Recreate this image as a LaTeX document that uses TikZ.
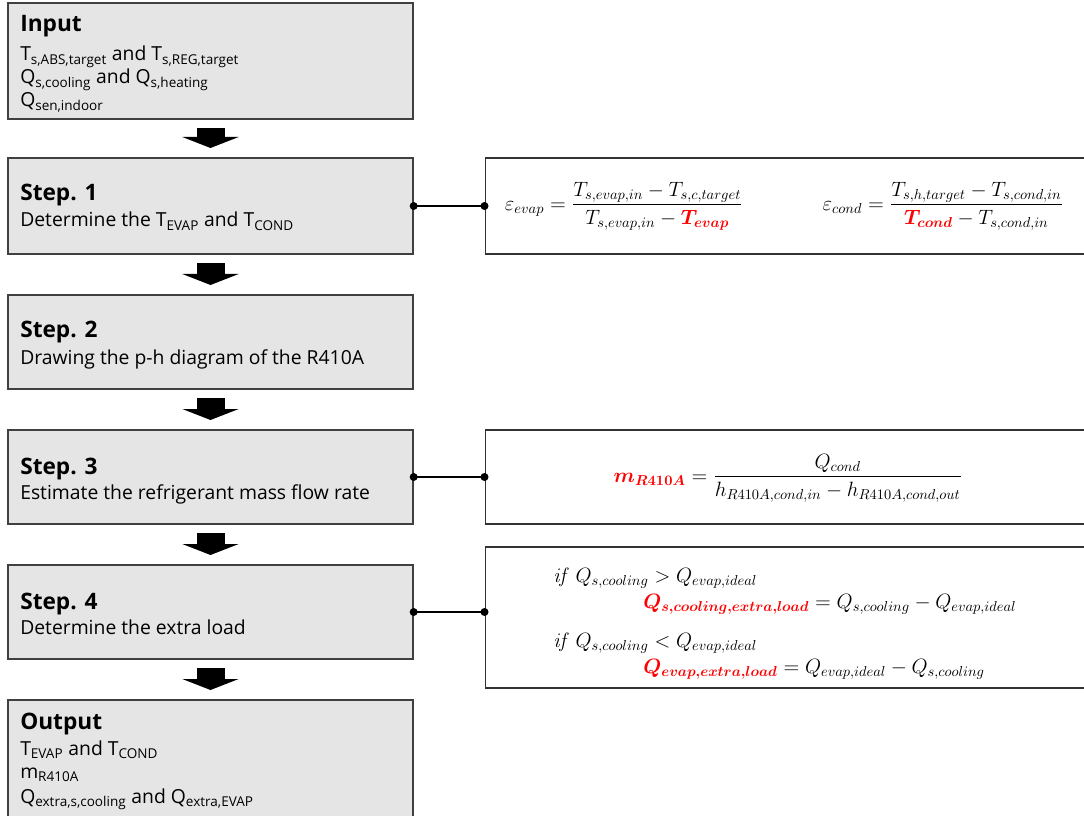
\documentclass[tikz,border=0pt]{standalone}
\usepackage[no-math]{fontspec}
\setmainfont{Open Sans}
\usepackage{amsmath}
\usepackage{bm}
\usetikzlibrary{arrows.meta}
\newcommand{\sbs}[1]{\textsubscript{#1}}
\begin{document}
\begin{tikzpicture}[x=0.75pt,y=-0.75pt,
  stepbox/.style={draw=black!75,line width=1pt,fill=black!10,minimum width=303.75pt,inner sep=0pt},
  eqbox/.style={draw=black!80,line width=1pt,fill=white,minimum width=455pt,inner sep=0pt},
  ttl/.style={anchor=base west,inner sep=0pt,font=\fontsize{17}{19}\selectfont\bfseries},
  txt/.style={anchor=base west,inner sep=0pt,font=\fontsize{14.5}{17}\selectfont},
  eq/.style={inner sep=0pt,font=\fontsize{14.4}{18}\selectfont,scale=1.08,transform shape},
  flow/.style={line width=21pt,-{Triangle[length=8.25pt,width=42pt]},shorten <=6.5pt,shorten >=7pt},
  link/.style={line width=1.5pt},
  dot/.style={fill=black}]
\useasboundingbox (0,0) rectangle (1084,816);
\clip (0,0) rectangle (1084,816);
% left boxes
\node[stepbox,minimum height=87pt] (in) at (210.5,61) {};
\node[stepbox,minimum height=72pt] (s1) at (210.5,206) {};
\node[stepbox,minimum height=70.5pt] (s2) at (210.5,342) {};
\node[stepbox,minimum height=70.5pt] (s3) at (210.5,477) {};
\node[stepbox,minimum height=70.5pt] (s4) at (210.5,612) {};
\node[stepbox,minimum height=90pt] (out) at (210.5,760) {};
% texts
\node[ttl] (in-t) at (20,32) {Input};
\node[txt] (in-a) at (20,61) {T\sbs{s,ABS,target} and T\sbs{s,REG,target}};
\node[txt] (in-b) at (20,84) {Q\sbs{s,cooling} and Q\sbs{s,heating}};
\node[txt] (in-c) at (20,107) {Q\sbs{sen,indoor}};
\node[ttl] (s1-t) at (20,201) {Step. 1};
\node[txt] (s1-a) at (20,227) {Determine the T\sbs{EVAP} and T\sbs{COND}};
\node[ttl] (s2-t) at (20,338) {Step. 2};
\node[txt] (s2-a) at (20,364) {Drawing the p-h diagram of the R410A};
\node[ttl] (s3-t) at (20,474) {Step. 3};
\node[txt] (s3-a) at (20,499) {Estimate the refrigerant mass flow rate};
\node[ttl] (s4-t) at (20,609) {Step. 4};
\node[txt] (s4-a) at (20,634) {Determine the extra load};
\node[ttl] (out-t) at (20,729) {Output};
\node[txt] (out-a) at (20,755) {T\sbs{EVAP} and T\sbs{COND}};
\node[txt] (out-b) at (20,778) {m\sbs{R410A}};
\node[txt] (out-c) at (20,803) {Q\sbs{extra,s,cooling} and Q\sbs{extra,EVAP}};
% block arrows
\draw[flow] (in.south) -- (s1.north);
\draw[flow] (s1.south) -- (s2.north);
\draw[flow] (s2.south) -- (s3.north);
\draw[flow] (s3.south) -- (s4.north);
\draw[flow] (s4.south) -- (out.north);
% equation boxes
\node[eqbox,minimum height=72pt] (e1) at (788.5,206) {};
\node[eqbox,minimum height=70.5pt] (e3) at (788.5,477) {};
\node[eqbox,minimum height=105.75pt] (e4) at (788.5,617.5) {};
\node[eq] (e1-a) at (624,206) {$\varepsilon_{evap}=\dfrac{T_{s,evap,in}-T_{s,c,target}}{T_{s,evap,in}-{\color{red}\bm{T_{evap}}}}$};
\node[eq] (e1-b) at (943,206) {$\varepsilon_{cond}=\dfrac{T_{s,h,target}-T_{s,cond,in}}{{\color{red}\bm{T_{cond}}}-T_{s,cond,in}}$};
\node[eq] (e3-a) at (788,478) {${\color{red}\bm{m_{R410A}}}=\dfrac{Q_{cond}}{h_{R410A,cond,in}-h_{R410A,cond,out}}$};
\node[eq,anchor=base west] (e4-a) at (553,582) {$\mathit{if}\ Q_{s,cooling}>Q_{evap,ideal}$};
\node[eq,anchor=base west] (e4-b) at (643,608) {${\color{red}\bm{Q_{s,cooling,extra,load}}}=Q_{s,cooling}-Q_{evap,ideal}$};
\node[eq,anchor=base west] (e4-c) at (553,647) {$\mathit{if}\ Q_{s,cooling}<Q_{evap,ideal}$};
\node[eq,anchor=base west] (e4-d) at (643,673) {${\color{red}\bm{Q_{evap,extra,load}}}=Q_{evap,ideal}-Q_{s,cooling}$};
% links
\draw[link] (s1.east) -- (e1.west);
\draw[link] (s3.east) -- (e3.west);
\draw[link] (s4.east) -- (s4.east -| e4.west) coordinate (e4l);
\fill[dot] (s1.east) circle[radius=4];
\fill[dot] (e1.west) circle[radius=4];
\fill[dot] (s3.east) circle[radius=4];
\fill[dot] (e3.west) circle[radius=4];
\fill[dot] (s4.east) circle[radius=4];
\fill[dot] (e4l) circle[radius=4];
\end{tikzpicture}
\end{document}
